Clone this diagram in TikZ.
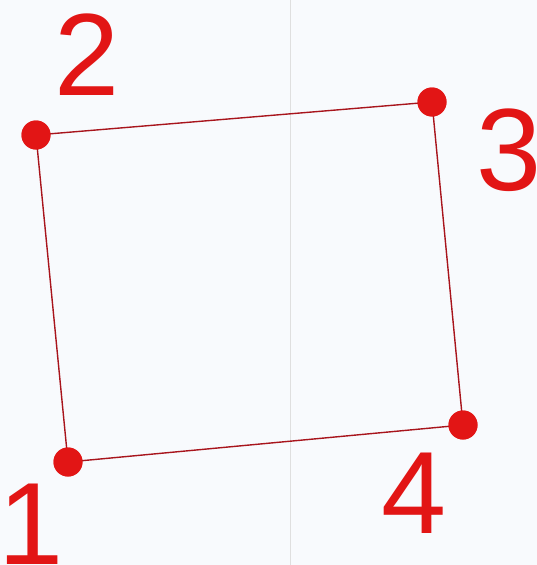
\documentclass[tikz,border=0pt]{standalone}
\usepackage{fontspec}
\setmainfont{Liberation Sans}
\begin{document}
\begin{tikzpicture}[x=1pt,y=-1pt,
  dotn/.style={circle,fill=ptred,inner sep=0pt,minimum size=29pt},
  lbl/.style={inner sep=0pt,text=ptred,font=\fontsize{117}{117}\selectfont},
  edge/.style={draw=edgered,line width=1.4pt}]
\definecolor{ptred}{HTML}{E21515}
\definecolor{edgered}{HTML}{A8141C}
\definecolor{bgc}{HTML}{F8FAFD}
\fill[bgc] (0,0) rectangle (537,565);
\useasboundingbox (0,0) rectangle (537,565);
\draw[gray!25,line width=1pt] (290.5,0) -- (290.5,565);
\node[dotn] (p1) at (68,462) {};
\node[dotn] (p2) at (36,135) {};
\node[dotn] (p3) at (432,102) {};
\node[dotn] (p4) at (463,425) {};
\draw[edge] (p1.center) -- (p2.center) -- (p3.center) -- (p4.center) -- cycle;
\foreach \p in {p1,p2,p3,p4} \fill[ptred] (\p) circle (14.5pt);
\node[lbl] (l2) at (87,55) {2};
\node[lbl] (l3) at (509,150) {3};
\node[lbl] (l1) at (31,524) {1};
\node[lbl] (l4) at (414,493) {4};
\end{tikzpicture}
\end{document}
